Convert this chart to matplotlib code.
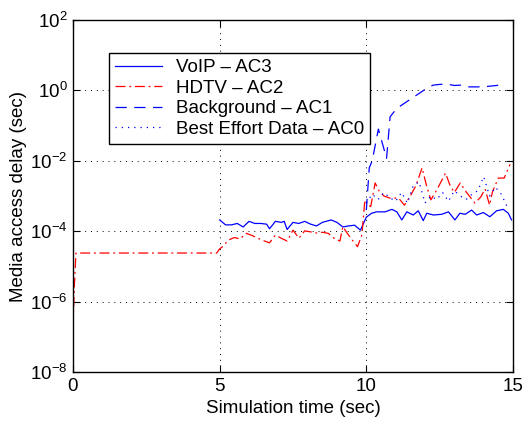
import numpy as np
import matplotlib
matplotlib.use("Agg")
import matplotlib.pyplot as plt
from matplotlib.ticker import FixedLocator

plt.rcParams['font.family'] = ['Liberation Sans', 'DejaVu Sans']
plt.rcParams['mathtext.fontset'] = 'custom'
plt.rcParams['mathtext.rm'] = 'Liberation Sans'
plt.rcParams['mathtext.it'] = 'Liberation Sans'

# ---- data (log10 of delay in seconds) ----
voip_t = [5.0, 5.2, 5.4, 5.6, 5.8, 6.0, 6.2, 6.4, 6.6, 6.7, 6.9, 7.1, 7.2, 7.3, 7.5,
          7.7, 7.9, 8.1, 8.3, 8.5, 8.8, 9.0, 9.2, 9.4, 9.6, 9.8, 10.0,
          10.18, 10.35, 10.64, 10.87, 11.04, 11.21, 11.38, 11.60, 11.77, 11.94,
          12.06, 12.29, 12.57, 12.80, 13.02, 13.19, 13.37, 13.59, 13.76, 13.99,
          14.21, 14.44, 14.67, 14.84, 14.95]
voip_log = [-3.68, -3.82, -3.82, -3.78, -3.88, -3.72, -3.78, -3.78, -3.80, -3.93, -3.72,
            -3.75, -3.72, -3.95, -3.75, -3.78, -3.72, -3.80, -3.85, -3.75, -3.68, -3.75,
            -3.88, -3.85, -3.83, -3.97, -3.60,
            -3.49, -3.45, -3.45, -3.38, -3.45, -3.68, -3.45, -3.54, -3.42, -3.70,
            -3.49, -3.54, -3.52, -3.45, -3.68, -3.49, -3.52, -3.40, -3.54, -3.47,
            -3.59, -3.42, -3.38, -3.49, -3.68]

hdtv_t = [0.0, 0.05, 0.1, 0.15, 4.9, 5.0, 5.1, 5.3, 5.5, 5.7, 5.9, 6.1, 6.3, 6.5, 6.7,
          6.9, 7.1, 7.3, 7.5, 7.7, 7.9, 8.1, 8.3, 8.5, 8.7, 8.9, 9.1, 9.2, 9.35, 9.5,
          9.7, 9.85, 9.95, 10.05, 10.15, 10.3, 10.45, 10.6, 10.8, 11.1, 11.3, 11.5,
          11.7, 11.9, 12.05, 12.2, 12.4, 12.7, 12.85, 13.0, 13.2, 13.4, 13.7, 13.9,
          14.05, 14.2, 14.3, 14.5, 14.7, 14.9]
hdtv_log = [-6.7, -5.5, -4.62, -4.62, -4.62, -4.5, -4.44, -4.25, -4.18, -4.22, -4.06,
            -4.12, -4.20, -4.27, -4.33, -4.11, -4.20, -4.28, -3.97, -4.20, -3.99, -4.02,
            -4.05, -4.03, -4.06, -4.20, -4.28, -3.87, -4.06, -4.23, -4.44, -4.10, -3.11,
            -3.25, -3.30, -2.63, -2.88, -3.00, -3.06, -3.06, -3.26, -3.00, -2.69, -2.20,
            -2.70, -3.11, -2.83, -2.35, -2.69, -2.90, -2.63, -2.88, -3.20, -3.03, -2.80,
            -3.26, -2.88, -2.49, -2.49, -2.10]

bg_t = [10.0, 10.1, 10.2, 10.41, 10.69, 10.81, 11.04, 11.38, 11.72, 12.06, 12.28,
        12.5, 12.74, 13.0, 13.2, 13.5, 13.76, 14.0, 14.2, 14.45, 14.67]
bg_log = [-3.4, -2.2, -2.0, -1.1, -1.93, -0.75, -0.51, -0.32, -0.13, 0.06, 0.15,
          0.17, 0.18, 0.14, 0.15, 0.10, 0.10, 0.10, 0.12, 0.14, 0.18]

be_t = [10.0, 10.2, 10.4, 10.6, 10.8, 11.0, 11.2, 11.4, 11.6, 11.8, 12.0, 12.2, 12.4,
        12.6, 12.8, 13.0, 13.2, 13.4, 13.6, 13.8, 14.0, 14.2, 14.4, 14.6, 14.8]
be_log = [-3.2, -2.95, -3.1, -2.9, -3.05, -3.15, -2.9, -3.2, -2.7, -2.6, -3.2, -3.0,
          -3.1, -2.9, -3.15, -2.85, -3.0, -3.1, -2.95, -2.85, -2.45, -3.0, -2.75,
          -2.95, -3.3]

labels = ['VoIP – AC3', 'HDTV – AC2', 'Background – AC1', 'Best Effort Data – AC0']
x_ticks = [0, 5, 10, 15]
y_ticks = [1e-8, 1e-6, 1e-4, 1e-2, 1e0, 1e2]

fig = plt.figure(figsize=(5.32, 4.24), dpi=100)
ax = fig.add_axes([73/532, 52/424, 440/532, 352/424])

ax.plot(voip_t, 10**np.array(voip_log), color=(0, 0, 1), lw=0.9, ls='-', label=labels[0])
ax.plot(hdtv_t, 10**np.array(hdtv_log), color=(1, 0, 0), lw=0.9, ls=(0, (8, 3, 1.5, 3)), label=labels[1])
ax.plot(bg_t, 10**np.array(bg_log), color=(0, 0, 1), lw=0.9, ls=(0, (9, 6)), label=labels[2])
ax.plot(be_t, 10**np.array(be_log), color=(0, 0, 1), lw=0.9, ls=(0, (1, 4)), label=labels[3])

ax.set_yscale('log')
ax.set_xlim(0, 15)
ax.set_ylim(1e-8, 1e2)
ax.xaxis.set_major_locator(FixedLocator(x_ticks))
ax.yaxis.set_major_locator(FixedLocator(y_ticks))
ax.yaxis.set_minor_locator(FixedLocator([]))
ax.grid(True, which='major', color='black', ls=(0, (1, 5)), lw=0.7)
ax.tick_params(direction='in', top=True, right=True, labelsize=13.5, length=5, width=0.8, pad=4)
for s in ax.spines.values():
    s.set_linewidth(1.0)

ax.set_xlabel('Simulation time (sec)', fontsize=13.5, labelpad=4)
ax.set_ylabel('Media access delay (sec)', fontsize=13.5, labelpad=2)

leg = ax.legend(loc='upper left', bbox_to_anchor=(0.082, 0.906), borderaxespad=0,
                fontsize=13.5, fancybox=False, framealpha=1, edgecolor='black',
                handlelength=2.5, handletextpad=0.75, labelspacing=0.18,
                borderpad=0.32)
leg.get_frame().set_linewidth(1.0)

fig.savefig('out.png', dpi=100)
